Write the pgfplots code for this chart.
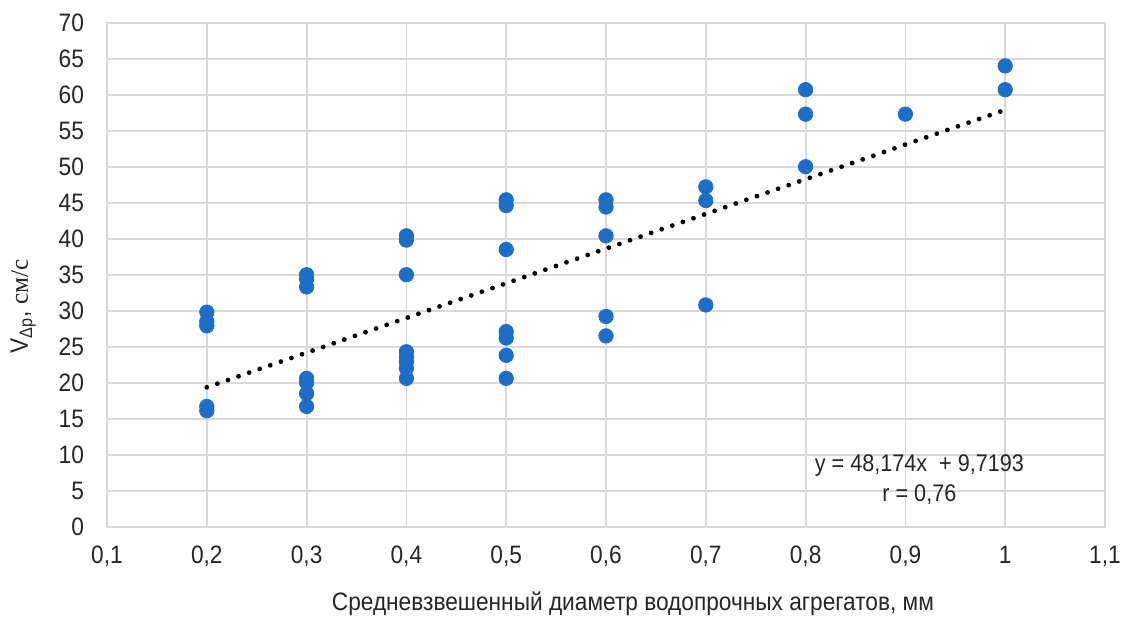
\documentclass[border=0pt]{standalone}
\usepackage{pgfplots}
\pgfplotsset{compat=1.18}
\usepackage{fontspec}
\setmainfont[FakeStretch=0.9]{Liberation Sans}
\newfontfamily\seriffont{Liberation Serif}
\definecolor{ptblue}{RGB}{30,110,200}
\definecolor{gridgray}{RGB}{217,217,217}
\begin{document}
\begin{tikzpicture}
\path[use as bounding box] (-53.5pt,-46.15pt) rectangle (508.5pt,263.35pt);
\begin{axis}[
  at={(0,0)}, anchor=south west,
  width=499pt, height=252pt, scale only axis,
  xmin=0.1, xmax=1.1, ymin=0, ymax=70,
  xtick={0.1,0.2,...,1.1}, ytick={0,5,...,70},
  xticklabels={0{,}1,0{,}2,0{,}3,0{,}4,0{,}5,0{,}6,0{,}7,0{,}8,0{,}9,1,1{,}1},
  grid=major,
  major grid style={gridgray, line width=0.9pt},
  axis line style={gridgray, line width=0.9pt},
  major tick length=0pt,
  tick label style={font=\fontsize{12.6}{14}\selectfont, text=black!85},
  yticklabel style={xshift=-8pt},
  xticklabel style={yshift=-6pt},
  /pgf/number format/assume math mode=true,
  /pgf/number format/use comma,
  clip=false,
]
\addplot[only marks, mark=*, mark size=3.6pt, mark options={fill=ptblue, draw=ptblue}] coordinates {
(0.2,29.8) (0.2,28.5) (0.2,27.9) (0.2,16.7) (0.2,16.1)
(0.3,35.0) (0.3,34.4) (0.3,33.3) (0.3,20.6) (0.3,20.0) (0.3,18.5) (0.3,16.7)
(0.4,40.4) (0.4,39.8) (0.4,35.0) (0.4,24.3) (0.4,23.6) (0.4,22.9) (0.4,22.0) (0.4,20.6)
(0.5,45.4) (0.5,44.6) (0.5,38.5) (0.5,27.1) (0.5,26.2) (0.5,23.8) (0.5,20.6)
(0.6,45.4) (0.6,44.4) (0.6,40.4) (0.6,29.2) (0.6,26.5)
(0.7,47.2) (0.7,45.3) (0.7,30.8)
(0.8,60.7) (0.8,57.3) (0.8,50.0)
(0.9,57.3)
(1.0,64.0) (1.0,60.7)
};
\addplot[black, line width=2.4pt, line cap=round, dash pattern=on 0pt off 5.6pt] coordinates {(0.2,19.354) (1.0,57.893)};
\node[align=center, font=\fontsize{12}{15}\selectfont, text=black!85] at (axis cs:0.914,6.5) {y = 48,174x\ \ + 9,7193\\r = 0,76};
\node[rotate=90, font=\fontsize{12.6}{14}\selectfont, text=black!85] at (axis description cs:-0.084,0.437) {V\textsubscript{\fontsize{9}{10}\selectfont Δр}, {\seriffont см/с}};
\node[font=\fontsize{12.6}{14}\selectfont, text=black!85] at (axis description cs:0.527,-0.153) {Средневзвешенный диаметр водопрочных агрегатов, мм};
\end{axis}
\end{tikzpicture}
\end{document}
